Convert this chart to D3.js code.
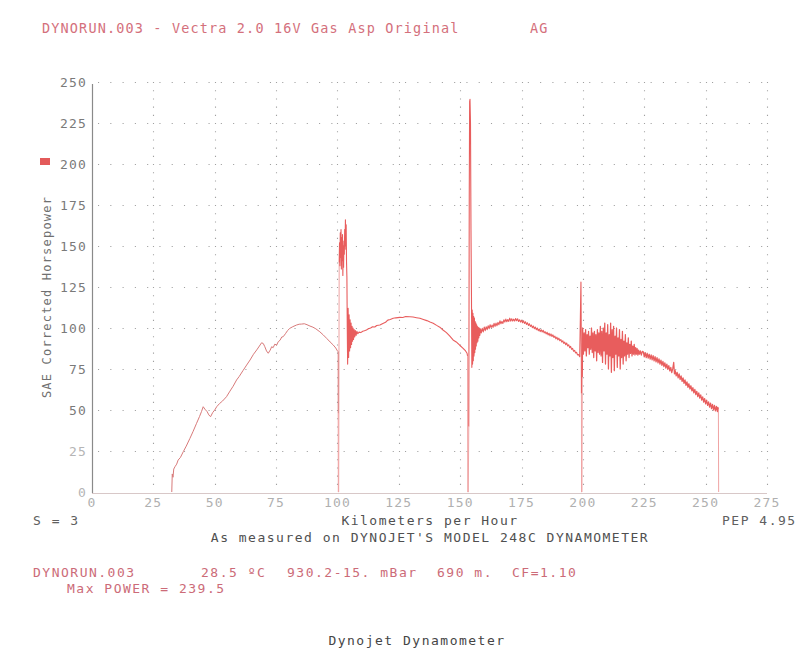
<!DOCTYPE html>
<html>
<head>
<meta charset="utf-8">
<script src="https://cdn.jsdelivr.net/npm/d3@7"></script>
<style>
  html, body { margin: 0; padding: 0; background: #ffffff; }
  svg { display: block; }
  text { font-family: "DejaVu Sans Mono", monospace; }
</style>
</head>
<body>
<svg id="chart" width="800" height="659"></svg>
<script>
// ---------------- DATA ----------------
const xTicks = [0, 25, 50, 75, 100, 125, 150, 175, 200, 225, 250, 275];
const yTicks = [0, 25, 50, 75, 100, 125, 150, 175, 200, 225, 250];

// run start up to first gear change (km/h, hp)
const segment1 = [
  [32.5,0],[32.7,11],[33.0,9],[33.3,14],[33.8,15.4],[34.5,17],[35.1,19.5],[36.0,21],[37.2,24.6],[38.4,28],
  [39.9,32.7],[41.2,37],[42.6,41.9],[43.8,46],[44.6,49],[45.3,52],[46.0,50.5],[46.9,49],[47.6,47],[48.3,45.9],
  [49.2,48.5],[50.0,50],[50.8,52],[52.0,54],[53.2,55.5],[54.8,58.1],[56.2,61.5],[57.5,64.5],[58.9,68.3],[60.0,70.5],
  [61.5,74],[63.0,77.4],[64.4,80.5],[65.8,84],[67.1,86.6],[68.2,89],[69.1,91],[69.8,90.5],[70.4,88.6],[71.1,86],
  [71.8,84.6],[72.6,86.5],[73.2,88.6],[73.8,88],[74.5,90.2],[75.2,89.5],[75.9,91.7],[76.6,92.5],[77.3,94.5],[77.9,94.7],
  [78.8,96.5],[79.7,98.5],[80.6,99.8],[81.8,100.8],[83.3,101.8],[84.4,102.3],[85.4,102.4],[86.5,102.6],[87.6,102],[88.8,101.2],
  [90.0,100.5],[91.2,99.5],[92.8,97.7],[94.2,95.8],[95.6,93.7],[97.0,91.5],[98.3,89.6],[99.3,87.8],[100.0,86],[100.3,85.5],
  [100.3,48]
];

// first shift spike, ringing and second gear curve
const segment2 = [
  [100.7,140],[100.85,152],[101.0,138],[101.15,158],[101.3,143],[101.45,160],[101.6,136],[101.75,155],[101.9,141],[102.05,157],
  [102.2,132],[102.35,150],[102.5,137],[102.65,153],[102.8,145],[102.95,160],[103.1,150],[103.25,166],[103.4,148],[103.55,163],
  [103.7,140],[103.85,131],[104.0,100],[104.15,78],[104.35,112],[104.55,82],[104.75,108],[104.95,86],[105.15,105],[105.35,88],
  [105.55,103],[105.75,90],[105.95,101],[106.15,92],[106.35,100],[106.55,93],[106.8,99],[107.05,94.5],[107.3,98.5],[107.6,95.5],
  [107.9,98],[108.3,96.5],[108.8,97.5],[109.5,97.2],[110.3,98],[111.0,98.3],[111.8,98.8],[112.6,99.5],[113.5,100],[114.3,100.8],
  [115.2,100.6],[116.0,101.5],[117.3,101.8],[118.5,102.8],[119.6,103.5],[120.5,104.8],[121.5,105.2],[122.7,105.9],[123.8,106.2],[125.4,106.5],
  [126.6,106.4],[127.8,107],[129.5,106.9],[130.8,106.7],[132.2,106.3],[133.6,105.9],[135.0,105.2],[136.4,104.5],[137.7,103.6],[139.0,102.9],
  [140.4,101.6],[141.7,100.5],[143.0,98.8],[144.4,97.2],[145.7,95.2],[147.1,92.7],[148.4,91.5],[149.8,89.5],[151.2,87.6],[152.2,86],
  [152.8,84.6],[153.0,83]
];

// max power spike, ringing and third gear curve
const segment3 = [
  [153.5,40],[153.7,180],[153.85,238],[154.0,239.5],[154.2,225],[154.4,160],[154.6,119],
  [154.75,76],[154.9,111],[155.05,78],[155.2,109],[155.35,80],[155.5,107],[155.65,83],[155.8,106],[155.95,85],
  [156.1,104],[156.25,87],[156.4,103],[156.55,89],[156.7,102],[156.85,91],[157.0,101],[157.2,92],[157.4,100.5],[157.6,94],
  [157.8,100],[158.0,95.5],[158.3,99.5],[158.6,97],[159.0,99.8],[159.4,97.6],[159.8,100.6],[160.2,98.4],[160.6,100.8],[161.0,99],
  [161.4,101.4],[161.8,99.6],[162.2,102],[162.6,100.2],[163.0,101.8],[163.4,100.4],[163.8,102.8],[164.2,101],[164.6,103],[165.0,101.4],
  [165.4,103.4],[165.8,102],[166.2,104.4],[166.6,102.6],[167.0,104],[167.4,102.8],[167.8,105],[168.2,103.6],[168.6,105.4],[169.0,103.8],
  [169.4,105.2],[169.8,104],[170.2,106],[170.6,104.2],[171.0,105.6],[171.4,104.2],[171.8,105.4],[172.2,104.2],[172.6,105.8],[173.0,104.4],
  [173.4,105.6],[173.8,104],[174.2,105],[174.6,103.6],[175.0,104.8],[175.4,103.2],[175.8,104.4],[176.2,102.8],[176.6,103.8],[177.0,102.2],
  [177.4,103.2],[177.8,101.6],[178.2,102.6],[178.6,101],[179.0,101.8],[179.4,100.2],[179.8,101.2],[180.2,99.6],[180.6,100.6],[181.0,99],
  [181.4,100],[181.8,98.4],[182.2,99.4],[182.6,97.8],[183.0,99],[183.4,97.6],[183.8,98.6],[184.2,97],[184.6,97.8],[185.0,96.4],
  [185.4,97.4],[185.8,95.8],[186.2,96.8],[186.6,95.2],[187.0,96.4],[187.4,94.8],[187.8,95.8],[188.2,94.2],[188.6,95],[189.0,93.4],
  [189.4,94.4],[189.8,92.8],[190.2,93.8],[190.6,92.2],[191.0,93],[191.4,91.4],[191.8,92.2],[192.2,90.6],[192.6,91.4],[193.0,89.8],
  [193.4,90.8],[193.8,89],[194.2,89.8],[194.6,88],[195.0,88.8],[195.4,87],[195.8,87.6],[196.2,85.8],[196.6,86.4],[197.0,84.8],
  [197.4,85.2],[197.8,83.6],[198.2,83.8],[198.7,82.5],[199.2,128],[199.35,90],[199.4,60]
];

// fourth gear: noisy band then fall-off to end of run
const segment4 = [
  [199.75,70],[199.9,100],[200.2,84],[200.5,97],[200.8,86],[201.1,99],[201.4,83],[201.7,96],[202.0,88],[202.3,98],
  [202.6,84],[202.9,95],[203.2,87],[203.5,100],[203.8,85],[204.1,97],[204.4,82],[204.7,98],[205.0,86],[205.3,96],
  [205.6,80],[205.9,99],[206.2,85],[206.5,97],[206.8,84],[207.1,101],[207.4,83],[207.7,98],[208.0,79],[208.3,100],
  [208.6,86],[208.9,103],[209.2,78],[209.5,97],[209.8,84],[210.1,102],[210.4,75],[210.7,96],[211.0,83],[211.3,103],
  [211.6,73],[211.9,99],[212.2,82],[212.5,101],[212.8,74],[213.1,95],[213.4,84],[213.7,100],[214.0,76],[214.3,94],
  [214.6,83],[214.9,99],[215.2,75],[215.5,93],[215.8,82],[216.1,98],[216.4,78],[216.7,92],[217.0,83],[217.3,96],
  [217.6,80],[217.9,91],[218.2,84],[218.5,94],[218.8,82],[219.1,90],[219.4,84.5],[219.7,92],[220.0,83],[220.3,89],
  [220.6,84],[220.9,90],[221.2,83.5],[221.5,88],[221.8,84],[222.1,87.5],[222.4,83.5],[222.7,86.5],[223.0,84],[223.4,86],
  [223.8,83.5],[224.2,85.8],[224.6,85.5],[225.0,82.4],[225.4,85],[225.8,82],[226.2,84.6],[226.6,81.6],[227.0,84],[227.4,81],
  [227.8,83.6],[228.2,80.6],[228.6,83.2],[229.0,80],[229.4,82.6],[229.8,79.4],[230.2,82],[230.6,78.8],[231.0,81.2],[231.4,78],
  [231.8,80.4],[232.2,77.2],[232.6,79.6],[233.0,76.4],[233.4,78.8],[233.8,75.6],[234.2,78],[234.6,74.8],[235.0,77],[235.4,73.8],
  [235.8,76],[236.2,72.8],[236.6,75.2],[237.0,79],[237.3,72],[237.6,74],[238.0,70.8],[238.4,73],[238.8,69.6],[239.2,72],
  [239.6,68.6],[240.0,70.8],[240.4,67.4],[240.8,69.6],[241.2,66.2],[241.6,68.4],[242.0,65],[242.4,67.2],[242.8,63.8],[243.2,66],
  [243.6,62.8],[244.0,64.8],[244.4,61.6],[244.8,63.6],[245.2,60.4],[245.6,62.6],[246.0,59.4],[246.4,61.4],[246.8,58.2],[247.2,60.4],
  [247.6,57.2],[248.0,59.2],[248.4,56],[248.8,58],[249.2,54.8],[249.6,57],[250.0,53.8],[250.4,56],[250.8,52.8],[251.2,55],
  [251.6,51.8],[252.0,54.2],[252.4,50.8],[252.8,53.4],[253.2,50],[253.6,52.8],[254.0,49.4],[254.4,52.2],[254.8,49],[255.0,51.6],
  [255.2,50.4]
];

// fast sweeps to zero between segments (pale lines)
const connectors = [
  [[100.3,48],[100.35,0],[100.5,0],[100.7,140]],
  [[153.0,83],[153.1,0],[153.3,0],[153.5,40]],
  [[199.4,60],[199.45,0],[199.6,0],[199.75,70]],
  [[255.2,50.4],[255.3,0]]
];

const titleText = "DYNORUN.003 - Vectra 2.0 16V Gas Asp Original";
const yLabel = "SAE Corrected Horsepower";
const xLabel = "Kilometers per Hour";
const runInfo = ["DYNORUN.003", "28.5 ºC", "930.2-15. mBar", "690 m.", "CF=1.10"];

// ---------------- DRAWING ----------------
const svg = d3.select("#chart");
const x = d3.scaleLinear().domain([0, 275]).range([92, 767]);
const y = d3.scaleLinear().domain([0, 250]).range([492, 82]);

// grid (dotted)
const grid = svg.append("g");
grid.selectAll("line.h").data(yTicks.filter(d => d > 0)).join("line")
  .attr("x1", x(0) + 6).attr("x2", x(275))
  .attr("y1", d => Math.round(y(d)) + 0.5).attr("y2", d => Math.round(y(d)) + 0.5)
  .attr("stroke", "#a0a0a0").attr("stroke-width", 1.1)
  .attr("stroke-dasharray", "1.1 11.18");
grid.selectAll("line.v").data(xTicks.filter(d => d > 0)).join("line")
  .attr("x1", d => Math.round(x(d)) + 0.5).attr("x2", d => Math.round(x(d)) + 0.5)
  .attr("y1", y(250)).attr("y2", y(0) - 2)
  .attr("stroke", "#a0a0a0").attr("stroke-width", 1.1)
  .attr("stroke-dasharray", "1.1 7.1");

// axes lines
svg.append("line").attr("x1", 92.5).attr("x2", 92.5).attr("y1", 84).attr("y2", 493)
  .attr("stroke", "#8a8a8a").attr("stroke-width", 1.2);
svg.append("line").attr("x1", 92).attr("x2", 767).attr("y1", 493.5).attr("y2", 493.5)
  .attr("stroke", "#d8c8c8").attr("stroke-width", 1.2);

// y tick labels
svg.append("g").selectAll("text").data(yTicks).join("text")
  .attr("x", 87).attr("y", d => y(d)).attr("dy", "0.36em")
  .attr("text-anchor", "end")
  .attr("font-size", 13).attr("letter-spacing", 1.2)
  .attr("fill", d => d <= 25 ? "#b5b5b5" : "#7a7a7a")
  .text(d => d);

// x tick labels
svg.append("g").selectAll("text").data(xTicks).join("text")
  .attr("x", d => x(d)).attr("y", 507)
  .attr("text-anchor", "middle")
  .attr("font-size", 13).attr("letter-spacing", 1.2)
  .attr("fill", "#b0b0b0")
  .text(d => d);

// data
const line = d3.line().x(d => x(d[0])).y(d => y(d[1]));
svg.append("g").selectAll("path").data(connectors).join("path")
  .attr("d", line).attr("fill", "none")
  .attr("stroke", "#f0a4a4").attr("stroke-width", 1);
svg.append("g").selectAll("path").data([segment1, segment2, segment3, segment4]).join("path")
  .attr("d", line).attr("fill", "none")
  .attr("stroke", (d, i) => i === 0 ? "#d87a7a" : "#e85d5d")
  .attr("stroke-width", (d, i) => i === 0 ? 1 : (i === 3 ? 1.25 : 1.1))
  .attr("stroke-linejoin", "round");

// legend marker
svg.append("rect").attr("x", 40).attr("y", 158).attr("width", 10).attr("height", 7)
  .attr("fill", "#e35a5a");

// texts
const T = (txt, xx, yy, opts = {}) => svg.append("text")
  .attr("x", xx).attr("y", yy)
  .attr("font-size", opts.size || 13)
  .attr("letter-spacing", opts.ls !== undefined ? opts.ls : 1.5)
  .attr("text-anchor", opts.anchor || "start")
  .attr("fill", opts.fill || "#555")
  .text(txt);

T(titleText, 42, 33, {fill: "#d4707c", size: 13.5, ls: 1.15});
T("AG", 530, 33, {fill: "#d4707c", size: 13.5, ls: 1.15});

svg.append("text")
  .attr("transform", "translate(51,297) rotate(-90)")
  .attr("text-anchor", "middle")
  .attr("font-size", 12).attr("letter-spacing", 1.2)
  .attr("fill", "#707070")
  .text(yLabel);

T("S = 3", 33, 525, {fill: "#606060"});
T(xLabel, 430, 525, {anchor: "middle", fill: "#505050"});
T("PEP 4.95", 722, 525, {fill: "#606060"});
T("As measured on DYNOJET'S MODEL 248C DYNAMOMETER", 430, 542, {anchor: "middle", fill: "#505050"});

const infoX = [33, 201, 287, 437, 512];
runInfo.forEach((s, i) => T(s, infoX[i], 577, {fill: "#cc6b78"}));
T("Max POWER = 239.5", 67, 593, {fill: "#cc6b78"});

T("Dynojet Dynamometer", 417, 645, {anchor: "middle", fill: "#454545"});
</script>
</body>
</html>
